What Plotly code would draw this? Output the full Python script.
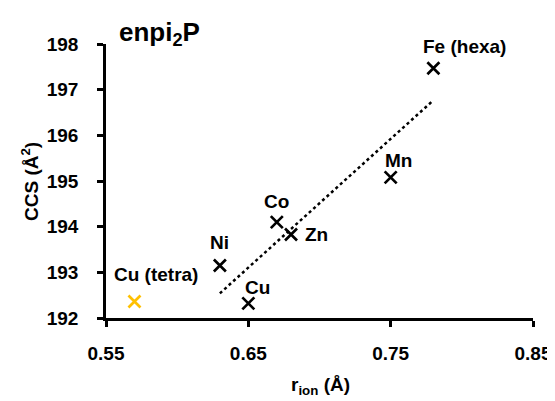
import plotly.graph_objects as go
import numpy as np

# data
labels = ["Ni", "Cu", "Co", "Zn", "Mn", "Fe (hexa)"]
r_ion = [0.63, 0.65, 0.67, 0.68, 0.75, 0.78]
ccs = [193.15, 192.32, 194.1, 193.83, 195.08, 197.47]
tetra_label = ["Cu (tetra)"]
tetra_r = [0.57]
tetra_ccs = [192.36]
x_ticks = [0.55, 0.65, 0.75, 0.85]
x_tick_labels = ["0.55", "0.65", "0.75", "0.85"]
y_ticks = [192, 193, 194, 195, 196, 197, 198]
y_tick_labels = ["192", "193", "194", "195", "196", "197", "198"]

# label offsets (pixels)
label_shift = {"Ni": (0, 23), "Cu": (9, 16), "Co": (0, 21), "Zn": (25, 0),
               "Mn": (8, 17), "Fe (hexa)": (31, 22), "Cu (tetra)": (22, 27)}

FONT = "Liberation Sans, Arial, sans-serif"

fig = go.Figure()
slope, icpt = np.polyfit(r_ion, ccs, 1)
xl = [min(r_ion), max(r_ion)]
fig.add_trace(go.Scatter(x=xl, y=[slope * v + icpt for v in xl], mode="lines",
                         line=dict(color="black", width=2.5, dash="dot"),
                         showlegend=False, hoverinfo="skip"))
fig.add_trace(go.Scatter(x=r_ion, y=ccs, mode="markers",
                         marker=dict(symbol="x-thin", size=12, line=dict(color="black", width=2.7)),
                         showlegend=False))
fig.add_trace(go.Scatter(x=tetra_r, y=tetra_ccs, mode="markers",
                         marker=dict(symbol="x-thin", size=12, line=dict(color="#FFC000", width=2.7)),
                         showlegend=False))

for lab, x, y in list(zip(labels, r_ion, ccs)) + list(zip(tetra_label, tetra_r, tetra_ccs)):
    dx, dy = label_shift[lab]
    fig.add_annotation(x=x, y=y, text="<b>" + lab + "</b>", showarrow=False, xshift=dx, yshift=dy,
                       font=dict(family=FONT, size=19, color="black"))

axis_common = dict(showgrid=False, zeroline=False, showline=True, linecolor="black", linewidth=2.5,
                   ticks="outside", ticklen=6, tickwidth=2.5, tickcolor="black", automargin=False,
                   tickfont=dict(family=FONT, size=19, color="black"))
fig.update_xaxes(range=[0.55, 0.85], tickvals=x_ticks,
                 ticktext=["<b>" + t + "</b>" for t in x_tick_labels], ticklabelstandoff=10, **axis_common)
fig.update_yaxes(range=[192, 198], tickvals=y_ticks,
                 ticktext=["<b>" + t + "</b>" for t in y_tick_labels], ticklabelstandoff=15, **axis_common)

fig.add_annotation(text="<b>enpi<sub>2</sub>P</b>", xref="paper", yref="paper", x=0, y=1.0,
                   xanchor="left", yanchor="middle", xshift=11, yshift=11, showarrow=False,
                   font=dict(family=FONT, size=26, color="black"))
fig.add_annotation(text="<b>CCS (Å<sup>2</sup>)</b>", xref="paper", yref="paper", x=0, y=0.5,
                   xanchor="center", yanchor="middle",
                   xshift=-76, yshift=-1, textangle=-90, showarrow=False,
                   font=dict(family=FONT, size=19, color="black"))
fig.add_annotation(text="<b>r<sub>ion</sub> (Å)</b>", xref="paper", yref="paper", x=0.5, y=0,
                   xanchor="center", yanchor="middle", xshift=1,
                   yshift=-68, showarrow=False,
                   font=dict(family=FONT, size=19, color="black"))

# page body has an 8px margin, so the figure is sized to fit the 555x401 window
fig.update_layout(width=547, height=393, margin=dict(l=98, r=22, t=36, b=83),
                  plot_bgcolor="white", paper_bgcolor="white",
                  font=dict(family=FONT, color="black"))
fig.write_html("out.html")
